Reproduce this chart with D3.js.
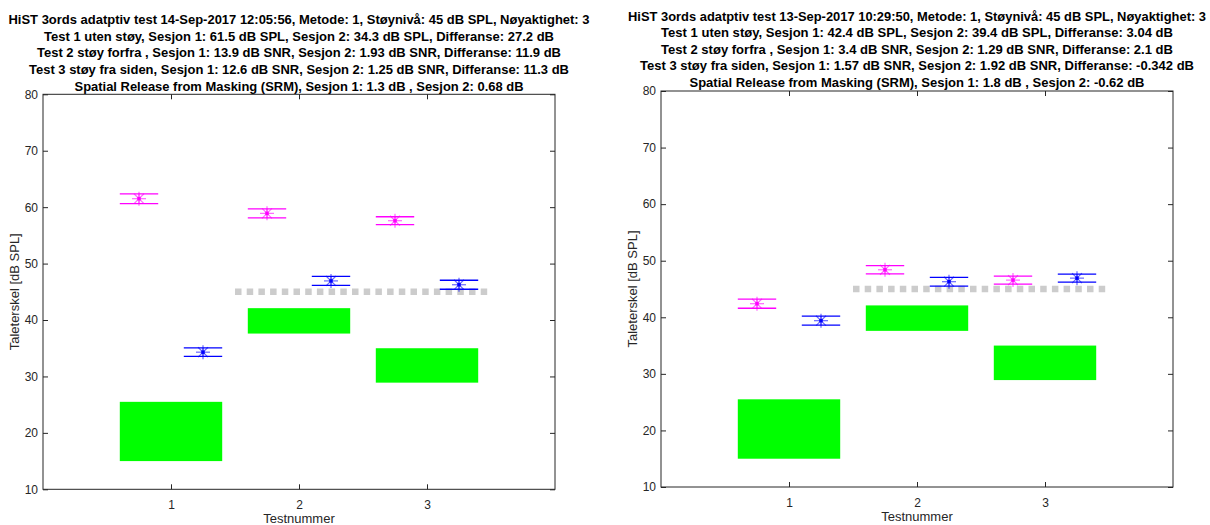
<!DOCTYPE html>
<html><head><meta charset="utf-8">
<script src="https://cdn.jsdelivr.net/npm/d3@7"></script>
<style>
body{margin:0;background:#fff}
svg{display:block}
text{font-family:"Liberation Sans",Arial,Helvetica,sans-serif}
</style>
</head><body>
<svg id="chart" width="1210" height="525"></svg>
<script>
// ---------- data ----------
const xTicks = [1, 2, 3];
const yTicks = [10, 20, 30, 40, 50, 60, 70, 80];
const yLabel = "Taleterskel [dB SPL]";
const xLabel = "Testnummer";
const normLow = [15, 37.6, 28.9];
const normHigh = [25.5, 42.1, 35];
const noiseLevel = 45;
const noiseSpan = [1.5, 3.5];

const titleA = [
  "HiST 3ords adatptiv test 14-Sep-2017 12:05:56, Metode: 1, Støynivå: 45 dB SPL, Nøyaktighet: 3",
  "Test 1 uten støy, Sesjon 1: 61.5 dB SPL, Sesjon 2: 34.3 dB SPL, Differanse: 27.2 dB",
  "Test 2 støy forfra , Sesjon 1: 13.9 dB SNR, Sesjon 2: 1.93 dB SNR, Differanse: 11.9 dB",
  "Test 3 støy fra siden, Sesjon 1: 12.6 dB SNR, Sesjon 2: 1.25 dB SNR, Differanse: 11.3 dB",
  "Spatial Release from Masking (SRM), Sesjon 1: 1.3 dB , Sesjon 2: 0.68 dB"
];
const sesjon1A = [61.5, 58.9, 57.6];
const sesjon1ErrA = [0.87, 0.8, 0.7];
const sesjon2A = [34.3, 46.93, 46.25];
const sesjon2ErrA = [0.75, 0.8, 0.8];

const titleB = [
  "HiST 3ords adatptiv test 13-Sep-2017 10:29:50, Metode: 1, Støynivå: 45 dB SPL, Nøyaktighet: 3",
  "Test 1 uten støy, Sesjon 1: 42.4 dB SPL, Sesjon 2: 39.4 dB SPL, Differanse: 3.04 dB",
  "Test 2 støy forfra , Sesjon 1: 3.4 dB SNR, Sesjon 2: 1.29 dB SNR, Differanse: 2.1 dB",
  "Test 3 støy fra siden, Sesjon 1: 1.57 dB SNR, Sesjon 2: 1.92 dB SNR, Differanse: -0.342 dB",
  "Spatial Release from Masking (SRM), Sesjon 1: 1.8 dB , Sesjon 2: -0.62 dB"
];
const sesjon1B = [42.4, 48.4, 46.57];
const sesjon1ErrB = [0.8, 0.73, 0.7];
const sesjon2B = [39.4, 46.29, 46.92];
const sesjon2ErrB = [0.8, 0.78, 0.7];

// ---------- layout ----------
const panels = [
  {title: titleA, s1: sesjon1A, e1: sesjon1ErrA, s2: sesjon2A, e2: sesjon2ErrA,
   left: 43, right: 555, top: 94.3, bottom: 489.3, titleBase: 24.3,
   titleWidths: [581, 510, 524, 540, 449], yLabelX: 18.5},
  {title: titleB, s1: sesjon1B, e1: sesjon1ErrB, s2: sesjon2B, e2: sesjon2ErrB,
   left: 661, right: 1173, top: 91, bottom: 487, titleBase: 20.7,
   titleWidths: [578, 512, 512, 554, 455], yLabelX: 637}
];
const axisColor = "#262626";
const col1 = "#ff00ff", col2 = "#0000ff";
const tickLen = 5;

const svg = d3.select("#chart");

function asterisk(g, cx, cy, color) {
  const r = 7, d = r * Math.SQRT1_2;
  const segs = [[-r,0,r,0],[0,-r,0,r],[-d,-d,d,d],[-d,d,d,-d]];
  g.selectAll(null).data(segs).enter().append("line")
    .attr("x1", s => cx + s[0]).attr("y1", s => cy + s[1])
    .attr("x2", s => cx + s[2]).attr("y2", s => cy + s[3])
    .attr("stroke", color).attr("stroke-width", 1.2).attr("stroke-opacity", 0.6);
  g.append("rect").attr("x", cx - 1.7).attr("y", cy - 1.7).attr("width", 3.4).attr("height", 3.4)
    .attr("fill", color);
}

panels.forEach(p => {
  const x = d3.scaleLinear().domain([0, 4]).range([p.left, p.right]);
  const y = d3.scaleLinear().domain([10, 80]).range([p.bottom, p.top]);
  const g = svg.append("g");
  const cx = (p.left + p.right) / 2;

  // title
  p.title.forEach((t, i) => {
    g.append("text").text(t)
      .attr("x", cx).attr("y", p.titleBase + i * 16.55)
      .attr("text-anchor", "middle").attr("font-weight", "bold").attr("font-size", 13)
      .attr("fill", "#000")
      .attr("textLength", p.titleWidths[i]).attr("lengthAdjust", "spacingAndGlyphs");
  });

  // green normal ranges
  g.selectAll(null).data(xTicks).enter().append("rect")
    .attr("x", (d) => x(d - 0.4)).attr("width", x(0.8) - x(0))
    .attr("y", (d, i) => y(normHigh[i]))
    .attr("height", (d, i) => y(normLow[i]) - y(normHigh[i]))
    .attr("fill", "#00ff00");

  // noise level dotted line
  g.append("line")
    .attr("x1", x(noiseSpan[0])).attr("x2", x(noiseSpan[1]))
    .attr("y1", y(noiseLevel)).attr("y2", y(noiseLevel))
    .attr("stroke", "#cccccc").attr("stroke-width", 6.5)
    .attr("stroke-dasharray", "6.5,5.2");

  // error bars + markers
  [[p.s1, p.e1, col1, -0.25], [p.s2, p.e2, col2, 0.25]].forEach(([vals, errs, color, off]) => {
    vals.forEach((v, i) => {
      const xc = x(xTicks[i] + off);
      const x0 = x(xTicks[i] + off - 0.15), x1 = x(xTicks[i] + off + 0.15);
      [v + errs[i], v - errs[i]].forEach(b => {
        g.append("line").attr("x1", x0).attr("x2", x1).attr("y1", y(b)).attr("y2", y(b))
          .attr("stroke", color).attr("stroke-width", 1.3);
      });
      g.append("line").attr("x1", xc).attr("x2", xc)
        .attr("y1", y(v + errs[i])).attr("y2", y(v - errs[i]))
        .attr("stroke", color).attr("stroke-width", 1).attr("stroke-opacity", 0.7);
      asterisk(g, xc, y(v), color);
    });
  });

  // axes box
  g.append("rect").attr("x", p.left).attr("y", p.top)
    .attr("width", p.right - p.left).attr("height", p.bottom - p.top)
    .attr("fill", "none").attr("stroke", axisColor).attr("stroke-width", 1);

  // bottom axis
  const ax = g.append("g").attr("transform", `translate(0,${p.bottom})`)
    .call(d3.axisBottom(x).tickValues(xTicks).tickSizeInner(-tickLen).tickSizeOuter(0).tickPadding(11).tickFormat(d3.format("d")));
  ax.select(".domain").remove();
  ax.selectAll("line").attr("stroke", axisColor);
  ax.selectAll("text").attr("font-size", 12).attr("fill", axisColor).attr("font-family", '"Liberation Sans",Arial,sans-serif');
  // top ticks
  const axt = g.append("g").attr("transform", `translate(0,${p.top})`)
    .call(d3.axisTop(x).tickValues(xTicks).tickSizeInner(-tickLen).tickSizeOuter(0).tickFormat(""));
  axt.select(".domain").remove();
  axt.selectAll("line").attr("stroke", axisColor);

  // left axis
  const ay = g.append("g").attr("transform", `translate(${p.left},0)`)
    .call(d3.axisLeft(y).tickValues(yTicks).tickSizeInner(-tickLen).tickSizeOuter(0).tickPadding(5).tickFormat(d3.format("d")));
  ay.select(".domain").remove();
  ay.selectAll("line").attr("stroke", axisColor);
  ay.selectAll("text").attr("font-size", 12).attr("fill", axisColor).attr("font-family", '"Liberation Sans",Arial,sans-serif');
  // right ticks
  const ayr = g.append("g").attr("transform", `translate(${p.right},0)`)
    .call(d3.axisRight(y).tickValues(yTicks).tickSizeInner(-tickLen).tickSizeOuter(0).tickFormat(""));
  ayr.select(".domain").remove();
  ayr.selectAll("line").attr("stroke", axisColor);

  // axis labels
  g.append("text").text(xLabel)
    .attr("x", cx).attr("y", p.bottom + 34)
    .attr("text-anchor", "middle").attr("font-size", 13).attr("fill", axisColor);
  g.append("text").text(yLabel)
    .attr("transform", `translate(${p.yLabelX},${(p.top + p.bottom) / 2}) rotate(-90)`)
    .attr("text-anchor", "middle").attr("font-size", 13).attr("fill", axisColor);
});
</script>
</body></html>
